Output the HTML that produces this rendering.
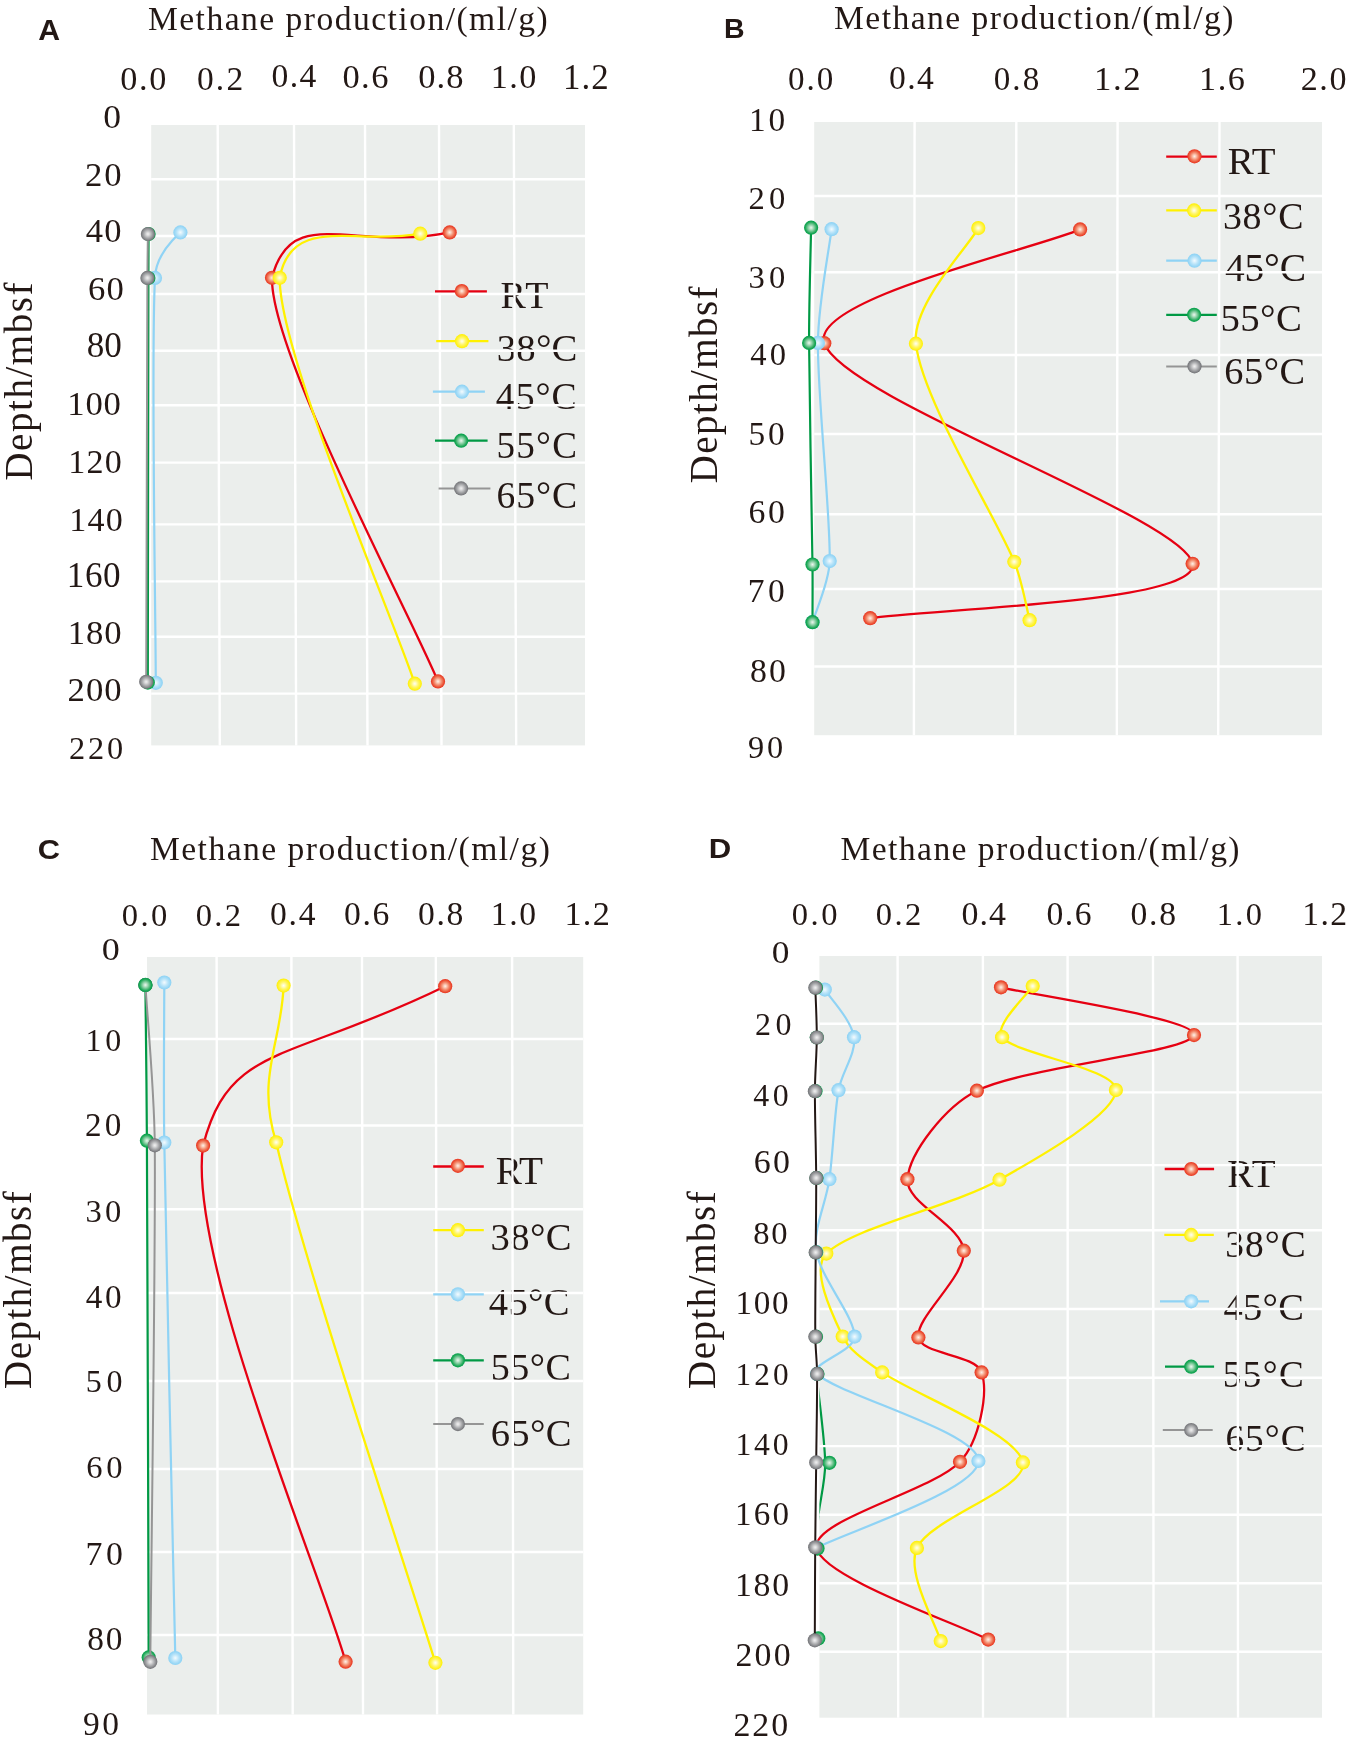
<!DOCTYPE html>
<html><head><meta charset="utf-8"><title>Methane production</title>
<style>html,body{margin:0;padding:0;background:#fff;overflow:hidden;}svg{display:block;will-change:transform;}
text{font-kerning:none;}</style></head>
<body><svg width="1347" height="1746" viewBox="0 0 1347 1746">
<defs><radialGradient id="gR" cx="0.5" cy="0.5" r="0.5"><stop offset="0" stop-color="#fdf0ea"/><stop offset="0.2" stop-color="#fbcdb9"/><stop offset="0.5" stop-color="#f38f72"/><stop offset="0.8" stop-color="#ec5437"/><stop offset="1" stop-color="#e8321f"/></radialGradient><radialGradient id="gY" cx="0.5" cy="0.5" r="0.5"><stop offset="0" stop-color="#fffef2"/><stop offset="0.2" stop-color="#fffbc0"/><stop offset="0.5" stop-color="#fff66a"/><stop offset="0.8" stop-color="#fff22a"/><stop offset="1" stop-color="#fff000"/></radialGradient><radialGradient id="gB" cx="0.5" cy="0.5" r="0.5"><stop offset="0" stop-color="#f4fbfe"/><stop offset="0.2" stop-color="#ddf2fc"/><stop offset="0.5" stop-color="#b9e4f9"/><stop offset="0.8" stop-color="#9bd8f6"/><stop offset="1" stop-color="#8cd2f4"/></radialGradient><radialGradient id="gG" cx="0.5" cy="0.5" r="0.5"><stop offset="0" stop-color="#eaf6ee"/><stop offset="0.2" stop-color="#bfe5cc"/><stop offset="0.5" stop-color="#74c794"/><stop offset="0.8" stop-color="#22a95a"/><stop offset="1" stop-color="#00a048"/></radialGradient><radialGradient id="gK" cx="0.5" cy="0.5" r="0.5"><stop offset="0" stop-color="#f0f0f0"/><stop offset="0.2" stop-color="#dcdcdd"/><stop offset="0.5" stop-color="#b2b3b5"/><stop offset="0.8" stop-color="#8a8b8e"/><stop offset="1" stop-color="#707175"/></radialGradient></defs>
<rect width="1347" height="1746" fill="#fff"/>
<rect x="151.2" y="125" width="433.8" height="620.4" fill="#ebeeec"/>
<text x="500.5" y="307.5" font-size="38.03" letter-spacing="-0.566" font-family='"Liberation Serif", serif' fill="#231815">RT</text>
<text x="496.84" y="360.9" font-size="38.79" letter-spacing="0.137" font-family='"Liberation Serif", serif' fill="#231815">38°C</text>
<text x="495.86" y="408.9" font-size="37.74" letter-spacing="0.937" font-family='"Liberation Serif", serif' fill="#231815">45°C</text>
<text x="496.54" y="457.9" font-size="37.14" letter-spacing="1.214" font-family='"Liberation Serif", serif' fill="#231815">55°C</text>
<text x="496.38" y="507.7" font-size="37.74" letter-spacing="0.898" font-family='"Liberation Serif", serif' fill="#231815">65°C</text>
<clipPath id="clip6"><rect x="151.2" y="125" width="433.8" height="620.4"/></clipPath>
<line x1="217.7" y1="125" x2="219.8" y2="745.4" stroke="#fff" stroke-width="2.4"/>
<line x1="294" y1="125" x2="296.2" y2="745.4" stroke="#fff" stroke-width="2.4"/>
<line x1="365" y1="125" x2="367.5" y2="745.4" stroke="#fff" stroke-width="2.4"/>
<line x1="439" y1="125" x2="441.5" y2="745.4" stroke="#fff" stroke-width="2.4"/>
<line x1="513.8" y1="125" x2="516.2" y2="745.4" stroke="#fff" stroke-width="2.4"/>
<line x1="151.2" y1="179.3" x2="585" y2="179.3" stroke="#fff" stroke-width="2.4"/>
<line x1="151.2" y1="236" x2="585" y2="236" stroke="#fff" stroke-width="2.4"/>
<line x1="151.2" y1="294" x2="585" y2="294" stroke="#fff" stroke-width="2.4"/>
<line x1="151.2" y1="350.7" x2="585" y2="350.7" stroke="#fff" stroke-width="2.4"/>
<line x1="151.2" y1="405.2" x2="585" y2="405.2" stroke="#fff" stroke-width="2.4"/>
<line x1="151.2" y1="462.6" x2="585" y2="462.6" stroke="#fff" stroke-width="2.4"/>
<line x1="151.2" y1="524.4" x2="585" y2="524.4" stroke="#fff" stroke-width="2.4"/>
<line x1="151.2" y1="581.4" x2="585" y2="581.4" stroke="#fff" stroke-width="2.4"/>
<line x1="151.2" y1="636.8" x2="585" y2="636.8" stroke="#fff" stroke-width="2.4"/>
<line x1="151.2" y1="693.6" x2="585" y2="693.6" stroke="#fff" stroke-width="2.4"/>
<line x1="435" y1="291.3" x2="486.9" y2="291.3" stroke="#e60012" stroke-width="2.3"/>
<circle cx="461.8" cy="291" r="7.1" fill="url(#gR)"/>
<line x1="436.2" y1="341.2" x2="488.4" y2="341.2" stroke="#fff100" stroke-width="2.3"/>
<circle cx="462" cy="341.2" r="7.1" fill="url(#gY)"/>
<line x1="432.9" y1="391.7" x2="484.9" y2="391.7" stroke="#8fd3f5" stroke-width="2.2"/>
<circle cx="462" cy="391.7" r="7.1" fill="url(#gB)"/>
<line x1="435" y1="440.7" x2="487.6" y2="440.7" stroke="#009944" stroke-width="2.2"/>
<circle cx="461.2" cy="440.7" r="7.1" fill="url(#gG)"/>
<line x1="438.6" y1="488.6" x2="490.4" y2="488.6" stroke="#959595" stroke-width="2.0"/>
<circle cx="461.1" cy="488.4" r="7.1" fill="url(#gK)"/>
<path d="M449.7,232.4 C354.2,252.1 291,202.3 272,277.8 C270.05,352.63 410.33,614.13 438,681.4" fill="none" stroke="#e60012" stroke-width="2.3" stroke-linejoin="round"/>
<circle cx="449.7" cy="232.4" r="7.1" fill="url(#gR)"/>
<circle cx="272" cy="277.8" r="7.1" fill="url(#gR)"/>
<circle cx="438" cy="681.4" r="7.1" fill="url(#gR)"/>
<path d="M420.3,233.7 C356.2,245.5 291.6,214 279.7,277.8 C278.78,352.8 392.28,616.05 414.8,683.7" fill="none" stroke="#fff100" stroke-width="2.3" stroke-linejoin="round"/>
<circle cx="420.3" cy="233.7" r="7.1" fill="url(#gY)"/>
<circle cx="279.7" cy="277.8" r="7.1" fill="url(#gY)"/>
<circle cx="414.8" cy="683.7" r="7.1" fill="url(#gY)"/>
<path d="M180.4,232.4 C191.5,224.5 155.6,247.4 155,277.9 C150.9,352.97 155.67,615.32 155.8,682.8" fill="none" stroke="#8fd3f5" stroke-width="2.2" stroke-linejoin="round"/>
<circle cx="180.4" cy="232.4" r="7.1" fill="url(#gB)"/>
<circle cx="155" cy="277.9" r="7.1" fill="url(#gB)"/>
<circle cx="155.8" cy="682.8" r="7.1" fill="url(#gB)"/>
<path d="M148.6,234 C148.57,241.33 148.43,263.33 148.4,278 C148.27,352.77 147.9,615.17 147.8,682.6" fill="none" stroke="#009944" stroke-width="2.2" stroke-linejoin="round"/>
<circle cx="148.6" cy="234" r="7.1" fill="url(#gG)"/>
<circle cx="148.4" cy="278" r="7.1" fill="url(#gG)"/>
<circle cx="147.8" cy="682.6" r="7.1" fill="url(#gG)"/>
<path d="M147.9,234 C147.82,241.32 147.46,263.27 147.4,277.9 C147.12,352.53 146.4,614.48 146.2,681.8" fill="none" stroke="#959595" stroke-width="2.0" stroke-linejoin="round"/>
<circle cx="147.9" cy="234" r="7.1" fill="url(#gK)"/>
<circle cx="147.4" cy="277.9" r="7.1" fill="url(#gK)"/>
<circle cx="146.2" cy="681.8" r="7.1" fill="url(#gK)"/>
<text x="120.3" y="89.77" font-size="34.23" letter-spacing="1.659" font-family='"Liberation Serif", serif' fill="#231815">0.0</text>
<text x="196.92" y="89.67" font-size="33.49" letter-spacing="2.180" font-family='"Liberation Serif", serif' fill="#231815">0.2</text>
<text x="271.52" y="86.77" font-size="33.64" letter-spacing="1.429" font-family='"Liberation Serif", serif' fill="#231815">0.4</text>
<text x="342.38" y="88.36" font-size="34.53" letter-spacing="1.441" font-family='"Liberation Serif", serif' fill="#231815">0.6</text>
<text x="418.28" y="88.36" font-size="34.53" letter-spacing="1.035" font-family='"Liberation Serif", serif' fill="#231815">0.8</text>
<text x="490.79" y="88.37" font-size="34.23" letter-spacing="1.361" font-family='"Liberation Serif", serif' fill="#231815">1.0</text>
<text x="563.03" y="88.7" font-size="34.89" letter-spacing="0.990" font-family='"Liberation Serif", serif' fill="#231815">1.2</text>
<text transform="matrix(1.0363,0,0,1,103.34,128.46)" font-size="34.38" font-family='"Liberation Serif", serif' fill="#231815">0</text>
<text x="84.98" y="186.16" font-size="34.68" letter-spacing="1.968" font-family='"Liberation Serif", serif' fill="#231815">20</text>
<text x="85.83" y="242.26" font-size="34.53" letter-spacing="1.261" font-family='"Liberation Serif", serif' fill="#231815">40</text>
<text x="88.11" y="299.66" font-size="34.68" letter-spacing="0.934" font-family='"Liberation Serif", serif' fill="#231815">60</text>
<text x="86.76" y="357.36" font-size="35.12" letter-spacing="0.054" font-family='"Liberation Serif", serif' fill="#231815">80</text>
<text x="67.35" y="415.06" font-size="34.68" letter-spacing="0.727" font-family='"Liberation Serif", serif' fill="#231815">100</text>
<text x="68.3" y="473.27" font-size="34.08" letter-spacing="1.184" font-family='"Liberation Serif", serif' fill="#231815">120</text>
<text x="69.3" y="530.97" font-size="34.08" letter-spacing="1.134" font-family='"Liberation Serif", serif' fill="#231815">140</text>
<text x="66.81" y="587.26" font-size="35.12" letter-spacing="0.571" font-family='"Liberation Serif", serif' fill="#231815">160</text>
<text x="67.85" y="643.66" font-size="34.68" letter-spacing="0.877" font-family='"Liberation Serif", serif' fill="#231815">180</text>
<text x="67.58" y="701.26" font-size="34.68" letter-spacing="1.015" font-family='"Liberation Serif", serif' fill="#231815">200</text>
<text x="68.98" y="758.58" font-size="32.31" letter-spacing="2.896" font-family='"Liberation Serif", serif' fill="#231815">220</text>
<text x="147.93" y="30.3" font-size="33.60" letter-spacing="1.467" font-family='"Liberation Serif", serif' fill="#231815">Methane production/(ml/g)</text>
<text transform="matrix(0,-1,1,0,31.6,480.62)" font-size="39.00" letter-spacing="1.553" font-family='"Liberation Serif", serif' fill="#231815">Depth/mbsf</text>
<text transform="matrix(1.0008,0,0,1,38.25,39.9)" font-size="30.23" font-family='"Liberation Sans", sans-serif' font-weight="bold" fill="#231815">A</text>
<rect x="814.2" y="122" width="507.8" height="613.2" fill="#ebeeec"/>
<text x="1227.78" y="173.6" font-size="38.94" letter-spacing="-1.896" font-family='"Liberation Serif", serif' fill="#231815">RT</text>
<text x="1222.89" y="228.7" font-size="37.89" letter-spacing="0.795" font-family='"Liberation Serif", serif' fill="#231815">38°C</text>
<text x="1225.03" y="281.2" font-size="39.55" letter-spacing="-0.228" font-family='"Liberation Serif", serif' fill="#231815">45°C</text>
<text x="1220.45" y="331.3" font-size="38.79" letter-spacing="0.403" font-family='"Liberation Serif", serif' fill="#231815">55°C</text>
<text x="1224.15" y="383.6" font-size="38.34" letter-spacing="0.604" font-family='"Liberation Serif", serif' fill="#231815">65°C</text>
<clipPath id="clip80"><rect x="814.2" y="122" width="507.8" height="613.2"/></clipPath>
<line x1="914.6" y1="122" x2="913.9" y2="735.2" stroke="#fff" stroke-width="2.4"/>
<line x1="1016.3" y1="122" x2="1015.3" y2="735.2" stroke="#fff" stroke-width="2.4"/>
<line x1="1117.6" y1="122" x2="1116.8" y2="735.2" stroke="#fff" stroke-width="2.4"/>
<line x1="1219.5" y1="122" x2="1218.2" y2="735.2" stroke="#fff" stroke-width="2.4"/>
<line x1="814.2" y1="196" x2="1322" y2="196" stroke="#fff" stroke-width="2.4"/>
<line x1="814.2" y1="272.3" x2="1322" y2="272.3" stroke="#fff" stroke-width="2.4"/>
<line x1="814.2" y1="355" x2="1322" y2="355" stroke="#fff" stroke-width="2.4"/>
<line x1="814.2" y1="434" x2="1322" y2="434" stroke="#fff" stroke-width="2.4"/>
<line x1="814.2" y1="514.2" x2="1322" y2="514.2" stroke="#fff" stroke-width="2.4"/>
<line x1="814.2" y1="589" x2="1322" y2="589" stroke="#fff" stroke-width="2.4"/>
<line x1="814.2" y1="666.5" x2="1322" y2="666.5" stroke="#fff" stroke-width="2.4"/>
<line x1="1166.2" y1="156.6" x2="1216.8" y2="156.6" stroke="#e60012" stroke-width="2.3"/>
<circle cx="1194.5" cy="156.3" r="7.1" fill="url(#gR)"/>
<line x1="1166.2" y1="210.4" x2="1216.8" y2="210.4" stroke="#fff100" stroke-width="2.3"/>
<circle cx="1194.1" cy="210.4" r="7.1" fill="url(#gY)"/>
<line x1="1166.2" y1="260.7" x2="1216.8" y2="260.7" stroke="#8fd3f5" stroke-width="2.2"/>
<circle cx="1194.5" cy="260.7" r="7.1" fill="url(#gB)"/>
<line x1="1166.2" y1="314.8" x2="1216.8" y2="314.8" stroke="#009944" stroke-width="2.2"/>
<circle cx="1194.1" cy="314.8" r="7.1" fill="url(#gG)"/>
<line x1="1166.2" y1="366.6" x2="1216.8" y2="366.6" stroke="#959595" stroke-width="2.0"/>
<circle cx="1194.5" cy="366.3" r="7.1" fill="url(#gK)"/>
<path d="M1080.1,229.4 C1037.47,248.37 809.5,299.2 824.3,343.2 C843.05,398.93 1184.95,517.97 1192.6,563.8 C1199.21,603.43 923.93,609.13 870.2,618.2" fill="none" stroke="#e60012" stroke-width="2.3" stroke-linejoin="round"/>
<circle cx="1080.1" cy="229.4" r="7.1" fill="url(#gR)"/>
<circle cx="824.3" cy="343.2" r="7.1" fill="url(#gR)"/>
<circle cx="1192.6" cy="563.8" r="7.1" fill="url(#gR)"/>
<circle cx="870.2" cy="618.2" r="7.1" fill="url(#gR)"/>
<path d="M978.3,228.1 C967.9,247.37 911.65,304.28 915.9,343.7 C921.9,399.32 995.35,515.72 1014.3,561.8 C1021.94,580.37 1027.05,610.47 1029.6,620.2" fill="none" stroke="#fff100" stroke-width="2.3" stroke-linejoin="round"/>
<circle cx="978.3" cy="228.1" r="7.1" fill="url(#gY)"/>
<circle cx="915.9" cy="343.7" r="7.1" fill="url(#gY)"/>
<circle cx="1014.3" cy="561.8" r="7.1" fill="url(#gY)"/>
<circle cx="1029.6" cy="620.2" r="7.1" fill="url(#gY)"/>
<path d="M831.6,229.2 C829.32,248.15 818.12,304.86 817.9,342.9 C817.58,398.22 830.6,514.55 829.7,561.1 C829.29,582.06 815.37,612.02 812.5,622.2" fill="none" stroke="#8fd3f5" stroke-width="2.2" stroke-linejoin="round"/>
<circle cx="831.6" cy="229.2" r="7.1" fill="url(#gB)"/>
<circle cx="817.9" cy="342.9" r="7.1" fill="url(#gB)"/>
<circle cx="829.7" cy="561.1" r="7.1" fill="url(#gB)"/>
<circle cx="812.5" cy="622.2" r="7.1" fill="url(#gB)"/>
<path d="M811.1,227.7 C810.77,246.9 808.94,304.5 809.1,342.9 C809.33,399.03 811.93,517.95 812.5,564.5 C812.73,583.73 812.5,612.58 812.5,622.2" fill="none" stroke="#009944" stroke-width="2.2" stroke-linejoin="round"/>
<circle cx="811.1" cy="227.7" r="7.1" fill="url(#gG)"/>
<circle cx="809.1" cy="342.9" r="7.1" fill="url(#gG)"/>
<circle cx="812.5" cy="564.5" r="7.1" fill="url(#gG)"/>
<circle cx="812.5" cy="622.2" r="7.1" fill="url(#gG)"/>
<text x="787.94" y="90.48" font-size="33.05" letter-spacing="2.054" font-family='"Liberation Serif", serif' fill="#231815">0.0</text>
<text x="889.12" y="88.97" font-size="33.64" letter-spacing="1.329" font-family='"Liberation Serif", serif' fill="#231815">0.4</text>
<text x="993.74" y="89.98" font-size="33.05" letter-spacing="2.104" font-family='"Liberation Serif", serif' fill="#231815">0.8</text>
<text x="1093.95" y="90" font-size="34.74" letter-spacing="1.674" font-family='"Liberation Serif", serif' fill="#231815">1.2</text>
<text x="1199.09" y="89.67" font-size="34.23" letter-spacing="1.519" font-family='"Liberation Serif", serif' fill="#231815">1.6</text>
<text x="1300.7" y="89.67" font-size="34.08" letter-spacing="1.596" font-family='"Liberation Serif", serif' fill="#231815">2.0</text>
<text x="749.07" y="130.67" font-size="33.34" letter-spacing="2.857" font-family='"Liberation Serif", serif' fill="#231815">10</text>
<text x="748.57" y="208.68" font-size="32.60" letter-spacing="4.072" font-family='"Liberation Serif", serif' fill="#231815">20</text>
<text x="748.44" y="287.58" font-size="32.60" letter-spacing="4.200" font-family='"Liberation Serif", serif' fill="#231815">30</text>
<text x="750.36" y="365.48" font-size="32.60" letter-spacing="3.176" font-family='"Liberation Serif", serif' fill="#231815">40</text>
<text x="748.46" y="444.57" font-size="33.34" letter-spacing="2.964" font-family='"Liberation Serif", serif' fill="#231815">50</text>
<text x="748.55" y="523.27" font-size="33.79" letter-spacing="2.451" font-family='"Liberation Serif", serif' fill="#231815">60</text>
<text x="747.79" y="602.07" font-size="33.49" letter-spacing="3.492" font-family='"Liberation Serif", serif' fill="#231815">70</text>
<text x="750.01" y="682.17" font-size="33.79" letter-spacing="2.086" font-family='"Liberation Serif", serif' fill="#231815">80</text>
<text x="748.06" y="758.38" font-size="32.31" letter-spacing="2.866" font-family='"Liberation Serif", serif' fill="#231815">90</text>
<text x="834.03" y="28.9" font-size="33.60" letter-spacing="1.450" font-family='"Liberation Serif", serif' fill="#231815">Methane production/(ml/g)</text>
<text transform="matrix(0,-1,1,0,717.4,483.22)" font-size="39.00" letter-spacing="1.398" font-family='"Liberation Serif", serif' fill="#231815">Depth/mbsf</text>
<text transform="matrix(1.0015,0,0,1,724.09,38)" font-size="28.49" font-family='"Liberation Sans", sans-serif' font-weight="bold" fill="#231815">B</text>
<rect x="147" y="957" width="436.2" height="757.5" fill="#ebeeec"/>
<text x="495.87" y="1184" font-size="39.25" letter-spacing="-2.972" font-family='"Liberation Serif", serif' fill="#231815">RT</text>
<text x="490.55" y="1250" font-size="38.64" letter-spacing="0.369" font-family='"Liberation Serif", serif' fill="#231815">38°C</text>
<text x="488.85" y="1314.5" font-size="38.64" letter-spacing="0.304" font-family='"Liberation Serif", serif' fill="#231815">45°C</text>
<text x="490.79" y="1379.7" font-size="38.04" letter-spacing="0.493" font-family='"Liberation Serif", serif' fill="#231815">55°C</text>
<text x="490.74" y="1446.1" font-size="38.64" letter-spacing="0.306" font-family='"Liberation Serif", serif' fill="#231815">65°C</text>
<clipPath id="clip146"><rect x="147" y="957" width="436.2" height="757.5"/></clipPath>
<line x1="216.6" y1="957" x2="217.9" y2="1714.5" stroke="#fff" stroke-width="2.4"/>
<line x1="291.4" y1="957" x2="292.7" y2="1714.5" stroke="#fff" stroke-width="2.4"/>
<line x1="362" y1="957" x2="363" y2="1714.5" stroke="#fff" stroke-width="2.4"/>
<line x1="435.8" y1="957" x2="437.1" y2="1714.5" stroke="#fff" stroke-width="2.4"/>
<line x1="512.1" y1="957" x2="513.3" y2="1714.5" stroke="#fff" stroke-width="2.4"/>
<line x1="147" y1="1039" x2="583.2" y2="1039" stroke="#fff" stroke-width="2.4"/>
<line x1="147" y1="1125.5" x2="583.2" y2="1125.5" stroke="#fff" stroke-width="2.4"/>
<line x1="147" y1="1209.2" x2="583.2" y2="1209.2" stroke="#fff" stroke-width="2.4"/>
<line x1="147" y1="1293" x2="583.2" y2="1293" stroke="#fff" stroke-width="2.4"/>
<line x1="147" y1="1381" x2="583.2" y2="1381" stroke="#fff" stroke-width="2.4"/>
<line x1="147" y1="1469" x2="583.2" y2="1469" stroke="#fff" stroke-width="2.4"/>
<line x1="147" y1="1552" x2="583.2" y2="1552" stroke="#fff" stroke-width="2.4"/>
<line x1="147" y1="1635" x2="583.2" y2="1635" stroke="#fff" stroke-width="2.4"/>
<line x1="433.2" y1="1166.5" x2="483.8" y2="1166.5" stroke="#e60012" stroke-width="2.3"/>
<circle cx="457.9" cy="1165.8" r="7.1" fill="url(#gR)"/>
<line x1="433.2" y1="1230.2" x2="483.8" y2="1230.2" stroke="#fff100" stroke-width="2.3"/>
<circle cx="457.9" cy="1230.2" r="7.1" fill="url(#gY)"/>
<line x1="433.2" y1="1294.3" x2="483.8" y2="1294.3" stroke="#8fd3f5" stroke-width="2.2"/>
<circle cx="457.9" cy="1294.3" r="7.1" fill="url(#gB)"/>
<line x1="433.2" y1="1360.3" x2="483.8" y2="1360.3" stroke="#009944" stroke-width="2.2"/>
<circle cx="457.9" cy="1360.3" r="7.1" fill="url(#gG)"/>
<line x1="433.2" y1="1424.1" x2="483.8" y2="1424.1" stroke="#959595" stroke-width="2.0"/>
<circle cx="457.9" cy="1424.1" r="7.1" fill="url(#gK)"/>
<path d="M445.2,986.2 C287.6,1063.4 229.5,1042.9 203.1,1145.6 C186.5,1258.18 321.85,1575.68 345.6,1661.7" fill="none" stroke="#e60012" stroke-width="2.3" stroke-linejoin="round"/>
<circle cx="445.2" cy="986.2" r="7.1" fill="url(#gR)"/>
<circle cx="203.1" cy="1145.6" r="7.1" fill="url(#gR)"/>
<circle cx="345.6" cy="1661.7" r="7.1" fill="url(#gR)"/>
<path d="M283.6,985.6 C281.7,1042.8 255.7,1076.9 276.2,1142.3 C301.5,1255.17 408.87,1576.05 435.4,1662.8" fill="none" stroke="#fff100" stroke-width="2.3" stroke-linejoin="round"/>
<circle cx="283.6" cy="985.6" r="7.1" fill="url(#gY)"/>
<circle cx="276.2" cy="1142.3" r="7.1" fill="url(#gY)"/>
<circle cx="435.4" cy="1662.8" r="7.1" fill="url(#gY)"/>
<path d="M164.3,982.5 C164.3,1009.17 163.43,1089.18 164.3,1142.5 C166.13,1255.08 173.47,1572.08 175.3,1658" fill="none" stroke="#8fd3f5" stroke-width="2.2" stroke-linejoin="round"/>
<circle cx="164.3" cy="982.5" r="7.1" fill="url(#gB)"/>
<circle cx="164.3" cy="1142.5" r="7.1" fill="url(#gB)"/>
<circle cx="175.3" cy="1658" r="7.1" fill="url(#gB)"/>
<path d="M145.4,984.9 C145.65,1010.87 146.65,1088.77 146.9,1140.7 C147.45,1252.78 148.4,1571.28 148.7,1657.4" fill="none" stroke="#009944" stroke-width="2.2" stroke-linejoin="round"/>
<circle cx="145.4" cy="984.9" r="7.1" fill="url(#gG)"/>
<circle cx="146.9" cy="1140.7" r="7.1" fill="url(#gG)"/>
<circle cx="148.7" cy="1657.4" r="7.1" fill="url(#gG)"/>
<path d="M145.4,985 C146.97,1011.72 154.41,1091.8 154.8,1145.3 C155.62,1258.1 151.05,1575.72 150.3,1661.8" fill="none" stroke="#959595" stroke-width="2.0" stroke-linejoin="round"/>
<circle cx="145.4" cy="985" r="7.1" fill="url(#gK)"/>
<circle cx="154.8" cy="1145.3" r="7.1" fill="url(#gK)"/>
<circle cx="150.3" cy="1661.8" r="7.1" fill="url(#gK)"/>
<circle cx="145.4" cy="985" r="7.1" fill="url(#gG)"/>
<text x="121.66" y="925.68" font-size="32.60" letter-spacing="2.465" font-family='"Liberation Serif", serif' fill="#231815">0.0</text>
<text x="195.66" y="925.68" font-size="32.60" letter-spacing="2.344" font-family='"Liberation Serif", serif' fill="#231815">0.2</text>
<text x="270.02" y="924.87" font-size="33.64" letter-spacing="1.729" font-family='"Liberation Serif", serif' fill="#231815">0.4</text>
<text x="344.12" y="924.87" font-size="33.64" letter-spacing="1.567" font-family='"Liberation Serif", serif' fill="#231815">0.6</text>
<text x="418.12" y="924.87" font-size="33.64" letter-spacing="1.557" font-family='"Liberation Serif", serif' fill="#231815">0.8</text>
<text x="490.84" y="924.87" font-size="33.64" letter-spacing="1.544" font-family='"Liberation Serif", serif' fill="#231815">1.0</text>
<text x="564.49" y="925.2" font-size="34.28" letter-spacing="1.225" font-family='"Liberation Serif", serif' fill="#231815">1.2</text>
<text transform="matrix(1.1073,0,0,1,101.83,960.28)" font-size="32.60" font-family='"Liberation Serif", serif' fill="#231815">0</text>
<text x="85.39" y="1051.49" font-size="32.01" letter-spacing="3.823" font-family='"Liberation Serif", serif' fill="#231815">10</text>
<text x="84.94" y="1136.18" font-size="33.19" letter-spacing="3.128" font-family='"Liberation Serif", serif' fill="#231815">20</text>
<text x="85.44" y="1221.58" font-size="32.60" letter-spacing="3.200" font-family='"Liberation Serif", serif' fill="#231815">30</text>
<text x="85.75" y="1307.88" font-size="33.19" letter-spacing="2.618" font-family='"Liberation Serif", serif' fill="#231815">40</text>
<text x="85.84" y="1391.79" font-size="32.01" letter-spacing="4.570" font-family='"Liberation Serif", serif' fill="#231815">50</text>
<text x="86.3" y="1477.98" font-size="32.60" letter-spacing="3.541" font-family='"Liberation Serif", serif' fill="#231815">60</text>
<text x="85.47" y="1564.77" font-size="33.79" letter-spacing="3.626" font-family='"Liberation Serif", serif' fill="#231815">70</text>
<text x="87.23" y="1649.67" font-size="33.34" letter-spacing="1.797" font-family='"Liberation Serif", serif' fill="#231815">80</text>
<text x="83.12" y="1734.97" font-size="33.49" letter-spacing="2.464" font-family='"Liberation Serif", serif' fill="#231815">90</text>
<text x="149.93" y="860.4" font-size="33.60" letter-spacing="1.471" font-family='"Liberation Serif", serif' fill="#231815">Methane production/(ml/g)</text>
<text transform="matrix(0,-1,1,0,30.9,1389.02)" font-size="39.00" letter-spacing="1.509" font-family='"Liberation Serif", serif' fill="#231815">Depth/mbsf</text>
<text transform="matrix(1.0829,0,0,1,37.83,858.82)" font-size="28.53" font-family='"Liberation Sans", sans-serif' font-weight="bold" fill="#231815">C</text>
<rect x="819.4" y="956" width="502.6" height="761.7" fill="#ebeeec"/>
<text x="1227.27" y="1186.7" font-size="39.10" letter-spacing="-1.584" font-family='"Liberation Serif", serif' fill="#231815">RT</text>
<text x="1225.21" y="1256.9" font-size="37.44" letter-spacing="1.023" font-family='"Liberation Serif", serif' fill="#231815">38°C</text>
<text x="1223.45" y="1319.6" font-size="38.49" letter-spacing="0.304" font-family='"Liberation Serif", serif' fill="#231815">45°C</text>
<text x="1222.64" y="1386.5" font-size="37.14" letter-spacing="1.480" font-family='"Liberation Serif", serif' fill="#231815">55°C</text>
<text x="1225.4" y="1450.7" font-size="37.29" letter-spacing="1.061" font-family='"Liberation Serif", serif' fill="#231815">65°C</text>
<clipPath id="clip217"><rect x="819.4" y="956" width="502.6" height="761.7"/></clipPath>
<path clip-path="url(#clip217)" d="M815.6,987.7 C815.68,996 816.26,1020.9 816.1,1037.5 C815.93,1054.75 814.66,1073.3 814.6,1091.2 C814.52,1114.6 815.5,1151.03 815.6,1177.9 C815.69,1202.73 815.33,1227.57 815.2,1252.4 C815.07,1278.87 814.57,1316.45 814.8,1336.7 C814.94,1349.11 815.58,1361.53 816.6,1373.9 C818.33,1394.92 824.88,1439.28 825.2,1462.8 C825.43,1480.24 819.98,1500.87 818.5,1515 C817.36,1525.83 816.66,1536.72 816.3,1547.6 C815.62,1568.43 814.72,1624.6 814.4,1640" fill="none" stroke="#009944" stroke-width="2.2"/>
<line x1="897.6" y1="956" x2="898.2" y2="1717.7" stroke="#fff" stroke-width="2.4"/>
<line x1="982.9" y1="956" x2="983" y2="1717.7" stroke="#fff" stroke-width="2.4"/>
<line x1="1067.6" y1="956" x2="1067.8" y2="1717.7" stroke="#fff" stroke-width="2.4"/>
<line x1="1153" y1="956" x2="1153.6" y2="1717.7" stroke="#fff" stroke-width="2.4"/>
<line x1="1237.6" y1="956" x2="1238" y2="1717.7" stroke="#fff" stroke-width="2.4"/>
<line x1="819.4" y1="1023.7" x2="1322" y2="1023.7" stroke="#fff" stroke-width="2.4"/>
<line x1="819.4" y1="1092.4" x2="1322" y2="1092.4" stroke="#fff" stroke-width="2.4"/>
<line x1="819.4" y1="1165.1" x2="1322" y2="1165.1" stroke="#fff" stroke-width="2.4"/>
<line x1="819.4" y1="1230.2" x2="1322" y2="1230.2" stroke="#fff" stroke-width="2.4"/>
<line x1="819.4" y1="1309" x2="1322" y2="1309" stroke="#fff" stroke-width="2.4"/>
<line x1="819.4" y1="1377.7" x2="1322" y2="1377.7" stroke="#fff" stroke-width="2.4"/>
<line x1="819.4" y1="1446.1" x2="1322" y2="1446.1" stroke="#fff" stroke-width="2.4"/>
<line x1="819.4" y1="1514.8" x2="1322" y2="1514.8" stroke="#fff" stroke-width="2.4"/>
<line x1="819.4" y1="1583.2" x2="1322" y2="1583.2" stroke="#fff" stroke-width="2.4"/>
<line x1="819.4" y1="1651.8" x2="1322" y2="1651.8" stroke="#fff" stroke-width="2.4"/>
<line x1="1164.7" y1="1169" x2="1214.1" y2="1169" stroke="#e60012" stroke-width="2.3"/>
<circle cx="1191.2" cy="1169" r="7.1" fill="url(#gR)"/>
<line x1="1164.3" y1="1234.9" x2="1213.8" y2="1234.9" stroke="#fff100" stroke-width="2.3"/>
<circle cx="1191.2" cy="1234.9" r="7.1" fill="url(#gY)"/>
<line x1="1160" y1="1301.3" x2="1209" y2="1301.3" stroke="#8fd3f5" stroke-width="2.2"/>
<circle cx="1191.2" cy="1301.3" r="7.1" fill="url(#gB)"/>
<line x1="1165" y1="1366.7" x2="1214.1" y2="1366.7" stroke="#009944" stroke-width="2.2"/>
<circle cx="1191.2" cy="1366.7" r="7.1" fill="url(#gG)"/>
<line x1="1162.8" y1="1430" x2="1212.7" y2="1430" stroke="#959595" stroke-width="2.0"/>
<circle cx="1191.2" cy="1430" r="7.1" fill="url(#gK)"/>
<path d="M1001,987.3 C1033.17,995.27 1197.78,1018.9 1194,1035.1 C1189.98,1052.33 1024.67,1066.68 976.9,1090.7 C944.97,1106.76 909.58,1152.53 907.4,1179.2 C905.45,1203.06 962.03,1225.28 963.8,1250.7 C965.63,1277.07 915.43,1317.12 918.4,1337.4 C920.92,1354.63 975.5,1354.16 981.6,1372.4 C988.53,1393.13 979.53,1441.08 960,1461.8 C932.48,1491 812.16,1520.23 816.5,1547.6 C821.2,1577.23 959.58,1624.27 988.2,1639.6" fill="none" stroke="#e60012" stroke-width="2.3" stroke-linejoin="round"/>
<circle cx="1001" cy="987.3" r="7.1" fill="url(#gR)"/>
<circle cx="1194" cy="1035.1" r="7.1" fill="url(#gR)"/>
<circle cx="976.9" cy="1090.7" r="7.1" fill="url(#gR)"/>
<circle cx="907.4" cy="1179.2" r="7.1" fill="url(#gR)"/>
<circle cx="963.8" cy="1250.7" r="7.1" fill="url(#gR)"/>
<circle cx="918.4" cy="1337.4" r="7.1" fill="url(#gR)"/>
<circle cx="981.6" cy="1372.4" r="7.1" fill="url(#gR)"/>
<circle cx="960" cy="1461.8" r="7.1" fill="url(#gR)"/>
<circle cx="816.5" cy="1547.6" r="7.1" fill="url(#gR)"/>
<circle cx="988.2" cy="1639.6" r="7.1" fill="url(#gR)"/>
<path d="M1032.7,986.1 C1027.6,994.62 993.17,1026.04 1002.1,1037.2 C1015.97,1054.53 1116.3,1068.22 1115.9,1090.1 C1115.47,1113.85 1041.8,1155.82 999.5,1179.7 C951.23,1206.95 852.43,1227.47 826.3,1253.6 C810.11,1269.79 833.38,1316.7 842.7,1336.5 C849.91,1351.83 867.65,1362.24 882.2,1372.4 C912.23,1393.38 1017.12,1433.15 1022.9,1462.4 C1028.1,1488.68 930.6,1518.12 916.9,1547.9 C905.56,1572.56 936.73,1625.57 940.7,1641.1" fill="none" stroke="#fff100" stroke-width="2.3" stroke-linejoin="round"/>
<circle cx="1032.7" cy="986.1" r="7.1" fill="url(#gY)"/>
<circle cx="1002.1" cy="1037.2" r="7.1" fill="url(#gY)"/>
<circle cx="1115.9" cy="1090.1" r="7.1" fill="url(#gY)"/>
<circle cx="999.5" cy="1179.7" r="7.1" fill="url(#gY)"/>
<circle cx="826.3" cy="1253.6" r="7.1" fill="url(#gY)"/>
<circle cx="842.7" cy="1336.5" r="7.1" fill="url(#gY)"/>
<circle cx="882.2" cy="1372.4" r="7.1" fill="url(#gY)"/>
<circle cx="1022.9" cy="1462.4" r="7.1" fill="url(#gY)"/>
<circle cx="916.9" cy="1547.9" r="7.1" fill="url(#gY)"/>
<circle cx="940.7" cy="1641.1" r="7.1" fill="url(#gY)"/>
<path d="M824.8,989.6 C829.67,997.53 851.72,1020.43 854,1037.2 C856.27,1053.87 841.63,1072.13 838.5,1090.2 C834.4,1113.87 833.07,1152.23 829.4,1179.2 C826.08,1203.6 812.77,1228.73 816.5,1252 C820.7,1278.23 854.52,1316.28 854.6,1336.6 C854.66,1351.37 807.75,1364.61 817,1373.9 C837.63,1394.62 978.4,1431.95 978.4,1460.9 C978.4,1489.84 843.9,1533.15 817,1547.6" fill="none" stroke="#8fd3f5" stroke-width="2.2" stroke-linejoin="round"/>
<circle cx="824.8" cy="989.6" r="7.1" fill="url(#gB)"/>
<circle cx="854" cy="1037.2" r="7.1" fill="url(#gB)"/>
<circle cx="838.5" cy="1090.2" r="7.1" fill="url(#gB)"/>
<circle cx="829.4" cy="1179.2" r="7.1" fill="url(#gB)"/>
<circle cx="816.5" cy="1252" r="7.1" fill="url(#gB)"/>
<circle cx="854.6" cy="1336.6" r="7.1" fill="url(#gB)"/>
<circle cx="817" cy="1373.9" r="7.1" fill="url(#gB)"/>
<circle cx="978.4" cy="1460.9" r="7.1" fill="url(#gB)"/>
<circle cx="817" cy="1547.6" r="7.1" fill="url(#gB)"/>
<circle cx="816" cy="987.7" r="7.1" fill="url(#gG)"/>
<circle cx="816.8" cy="1037.5" r="7.1" fill="url(#gG)"/>
<circle cx="815.5" cy="1091.2" r="7.1" fill="url(#gG)"/>
<circle cx="816.5" cy="1177.9" r="7.1" fill="url(#gG)"/>
<circle cx="816" cy="1252.4" r="7.1" fill="url(#gG)"/>
<circle cx="816" cy="1336.7" r="7.1" fill="url(#gG)"/>
<circle cx="817.5" cy="1373.9" r="7.1" fill="url(#gG)"/>
<circle cx="829.4" cy="1462.8" r="7.1" fill="url(#gG)"/>
<circle cx="817.5" cy="1548.6" r="7.1" fill="url(#gG)"/>
<circle cx="818.3" cy="1638.4" r="7.1" fill="url(#gG)"/>
<path d="M815.3,987.7 C815.55,996 816.86,1020.9 816.8,1037.5 C816.73,1054.75 814.98,1073.29 814.9,1091.2 C814.8,1114.6 816.07,1151.03 816.2,1177.9 C816.32,1202.73 815.84,1227.57 815.7,1252.4 C815.55,1278.87 815.07,1316.45 815.3,1336.7 C815.44,1349.11 817.01,1361.49 817.1,1373.9 C817.25,1394.85 816.52,1433.5 816.2,1462.4 C815.89,1490.7 815.42,1519 815.2,1547.3 C814.97,1576.95 814.87,1624.8 814.8,1640.3" fill="none" stroke="#231815" stroke-width="2.0" stroke-linejoin="round"/>
<circle cx="815.3" cy="987.7" r="7.1" fill="url(#gK)"/>
<circle cx="816.8" cy="1037.5" r="7.1" fill="url(#gK)"/>
<circle cx="814.9" cy="1091.2" r="7.1" fill="url(#gK)"/>
<circle cx="816.2" cy="1177.9" r="7.1" fill="url(#gK)"/>
<circle cx="815.7" cy="1252.4" r="7.1" fill="url(#gK)"/>
<circle cx="815.3" cy="1336.7" r="7.1" fill="url(#gK)"/>
<circle cx="817.1" cy="1373.9" r="7.1" fill="url(#gK)"/>
<circle cx="816.2" cy="1462.4" r="7.1" fill="url(#gK)"/>
<circle cx="815.2" cy="1547.3" r="7.1" fill="url(#gK)"/>
<circle cx="814.8" cy="1640.3" r="7.1" fill="url(#gK)"/>
<text x="791.66" y="925.48" font-size="32.60" letter-spacing="2.565" font-family='"Liberation Serif", serif' fill="#231815">0.0</text>
<text x="875.66" y="925.48" font-size="32.60" letter-spacing="2.444" font-family='"Liberation Serif", serif' fill="#231815">0.2</text>
<text x="961.41" y="924.57" font-size="33.94" letter-spacing="1.102" font-family='"Liberation Serif", serif' fill="#231815">0.4</text>
<text x="1046.42" y="924.77" font-size="33.64" letter-spacing="1.617" font-family='"Liberation Serif", serif' fill="#231815">0.6</text>
<text x="1130.62" y="924.77" font-size="33.64" letter-spacing="1.657" font-family='"Liberation Serif", serif' fill="#231815">0.8</text>
<text x="1216.65" y="925.28" font-size="32.45" letter-spacing="2.361" font-family='"Liberation Serif", serif' fill="#231815">1.0</text>
<text x="1302.34" y="925.3" font-size="33.68" letter-spacing="1.309" font-family='"Liberation Serif", serif' fill="#231815">1.2</text>
<text transform="matrix(1.1319,0,0,1,771.85,962.59)" font-size="31.27" font-family='"Liberation Serif", serif' fill="#231815">0</text>
<text x="754.89" y="1034.59" font-size="32.01" letter-spacing="4.516" font-family='"Liberation Serif", serif' fill="#231815">20</text>
<text x="753.28" y="1105.59" font-size="31.86" letter-spacing="3.475" font-family='"Liberation Serif", serif' fill="#231815">40</text>
<text x="753.74" y="1173.37" font-size="33.94" letter-spacing="2.315" font-family='"Liberation Serif", serif' fill="#231815">60</text>
<text x="753.26" y="1243.98" font-size="32.60" letter-spacing="1.681" font-family='"Liberation Serif", serif' fill="#231815">80</text>
<text x="735.38" y="1314.38" font-size="33.19" letter-spacing="1.745" font-family='"Liberation Serif", serif' fill="#231815">100</text>
<text x="735.55" y="1385.49" font-size="31.27" letter-spacing="3.068" font-family='"Liberation Serif", serif' fill="#231815">120</text>
<text x="735.51" y="1455.49" font-size="31.71" letter-spacing="2.763" font-family='"Liberation Serif", serif' fill="#231815">140</text>
<text x="735.1" y="1525.48" font-size="33.05" letter-spacing="2.197" font-family='"Liberation Serif", serif' fill="#231815">160</text>
<text x="735.03" y="1596.17" font-size="33.79" letter-spacing="1.688" font-family='"Liberation Serif", serif' fill="#231815">180</text>
<text x="735.52" y="1666.27" font-size="33.79" letter-spacing="2.195" font-family='"Liberation Serif", serif' fill="#231815">200</text>
<text x="733.41" y="1735.67" font-size="33.94" letter-spacing="1.990" font-family='"Liberation Serif", serif' fill="#231815">220</text>
<text x="840.43" y="860.4" font-size="33.60" letter-spacing="1.438" font-family='"Liberation Serif", serif' fill="#231815">Methane production/(ml/g)</text>
<text transform="matrix(0,-1,1,0,714.7,1389.02)" font-size="39.00" letter-spacing="1.509" font-family='"Liberation Serif", serif' fill="#231815">Depth/mbsf</text>
<text transform="matrix(1.1218,0,0,1,708.72,857.5)" font-size="27.76" font-family='"Liberation Sans", sans-serif' font-weight="bold" fill="#231815">D</text>
</svg></body></html>
